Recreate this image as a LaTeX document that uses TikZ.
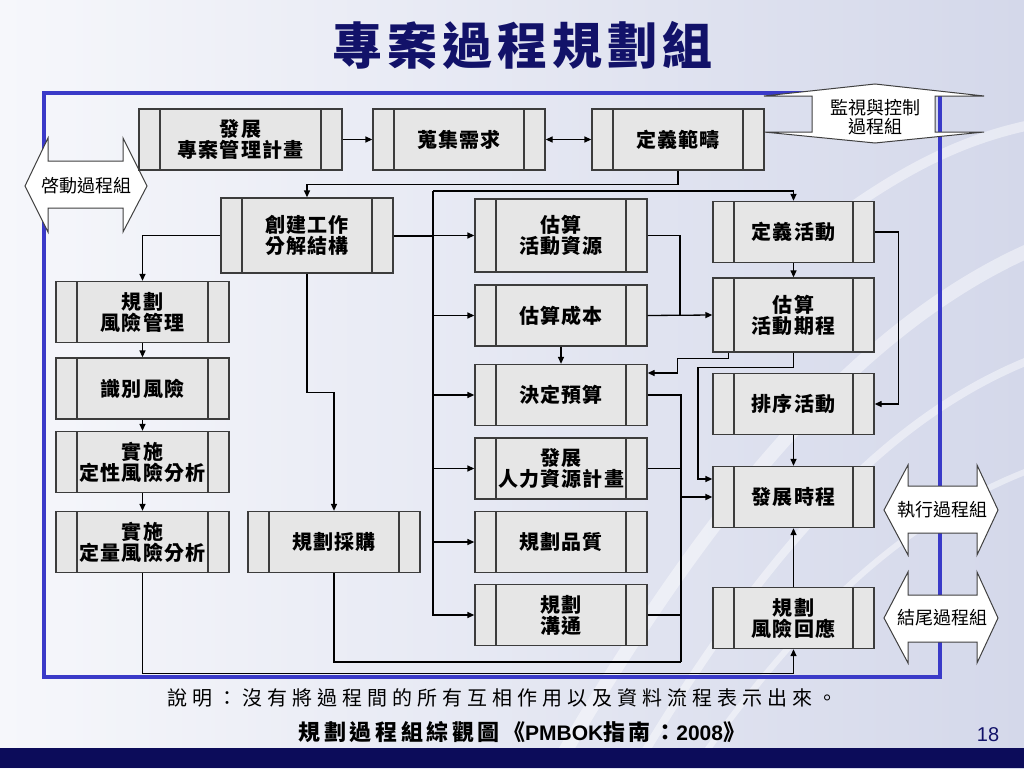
\documentclass[tikz,border=0pt]{standalone}
\usepackage{fontspec}
\newfontfamily\cjk{Noto Sans CJK TC}
\newfontfamily\cjkbox{Noto Sans CJK TC}[LetterSpace=6]
\newfontfamily\cjkcap{Noto Sans CJK TC}[LetterSpace=25]
\newfontfamily\cjkcapb{Noto Sans CJK TC}[LetterSpace=16]
\newfontfamily\cjktitle{Noto Sans CJK TC}[LetterSpace=10]
\setsansfont{Liberation Sans}
\usetikzlibrary{arrows.meta,calc}
\definecolor{navy}{RGB}{18,18,105}
\definecolor{bandnavy}{RGB}{12,12,90}
\definecolor{frameblue}{RGB}{58,58,200}
\definecolor{boxfill}{RGB}{230,230,230}
\definecolor{boxline}{RGB}{60,60,60}
\definecolor{bgL}{RGB}{246,247,251}
\definecolor{bgR}{RGB}{212,216,234}
\newcommand\mybxfont{\cjkbox\bfseries\fontsize{20}{21}\selectfont}
\newcommand\mysidefont{\cjk\fontsize{18}{19}\selectfont}
\tikzset{
  pbox/.style={draw=boxline, fill=boxfill, line width=1.3pt, inner sep=0pt,
    align=center, minimum width=172pt, minimum height=61pt, font=\mybxfont,
    path picture={\draw[boxline, line width=1.1pt]
      ([xshift=21pt]path picture bounding box.south west) -- ([xshift=21pt]path picture bounding box.north west)
      ([xshift=-21pt]path picture bounding box.south east) -- ([xshift=-21pt]path picture bounding box.north east);}},
  conn/.style={draw=black, line width=1.3pt},
  arr/.style={conn, -{Triangle[length=7pt,width=6pt]}},
  darr/.style={conn, {Triangle[length=7pt,width=6pt]}-{Triangle[length=7pt,width=6pt]}},
  sideshape/.style={draw=black!75, fill=white, line width=1pt, line join=miter},
  sidetext/.style={font=\mysidefont, align=center, inner sep=0pt},
  swoosh/.style={draw=white, opacity=0.45, line width=#1},
}
\begin{document}
\begin{tikzpicture}[x=1pt,y=-1pt]
\fill[left color=bgL, right color=bgR] (0,0) rectangle (1024,768);
\useasboundingbox (0,0) rectangle (1024,768);
% background swooshes
\draw[swoosh=14pt] (560,760) .. controls (700,520) and (850,330) .. (1030,250);
\draw[swoosh=8pt] (640,760) .. controls (760,560) and (880,420) .. (1030,360);
\draw[swoosh=10pt] (820,230) .. controls (900,170) and (960,140) .. (1030,125);
\draw[swoosh=6pt] (700,760) .. controls (800,620) and (900,520) .. (1030,470);
\fill[bandnavy] (0,748) rectangle (1024,768);
% title
\node[font=\cjktitle\bfseries\fontsize{50}{50}\selectfont, text=navy] (title) at (522,45) {專案過程規劃組};
% frame
\draw[frameblue, line width=4pt] (44,93) rectangle (940,677);
% side shapes
\draw[sideshape] (25,186) -- (48,138) -- (48,161) -- (123,161) -- (123,138) -- (147,186) -- (123,232) -- (123,208) -- (48,208) -- (48,232) -- cycle;
\node[sidetext] (initg) at (86,186) {啓動過程組};
\draw[sideshape] (875,84) -- (984,96) -- (935,96) -- (935,132) -- (984,132) -- (875,143) -- (764,132) -- (812,132) -- (812,96) -- (764,96) -- cycle;
\node[sidetext] (mong) at (875,117) {監視與控制\\過程組};
\draw[sideshape] (884,510) -- (908,465) -- (908,486) -- (977,486) -- (977,465) -- (998,510) -- (977,555) -- (977,533) -- (908,533) -- (908,555) -- cycle;
\node[sidetext] (execg) at (942,510) {執行過程組};
\draw[sideshape] (884,618) -- (908,572) -- (908,595) -- (977,595) -- (977,572) -- (998,618) -- (977,663) -- (977,642) -- (908,642) -- (908,663) -- cycle;
\node[sidetext] (closeg) at (942,618) {結尾過程組};
% boxes
\node[pbox, minimum width=203pt] (dev) at (240.5,139.5) {發展\\專案管理計畫};
\node[pbox] (collect) at (459,139.5) {蒐集需求};
\node[pbox] (scope) at (678,139.5) {定義範疇};
\node[pbox, minimum height=75pt] (wbs) at (307,235.5) {創建工作\\分解結構};
\node[pbox, minimum height=73pt] (estres) at (561,235.5) {估算\\活動資源};
\node[pbox] (estcost) at (561,315.5) {估算成本};
\node[pbox] (budget) at (561,395) {決定預算};
\node[pbox] (hr) at (561,468.5) {發展\\人力資源計畫};
\node[pbox] (quality) at (561,542) {規劃品質};
\node[pbox] (comm) at (561,615) {規劃\\溝通};
\node[pbox, minimum width=173pt] (riskplan) at (142.5,312) {規劃\\風險管理};
\node[pbox, minimum width=173pt] (identify) at (142.5,388.5) {識別風險};
\node[pbox, minimum width=173pt] (qual) at (142.5,462) {實施\\定性風險分析};
\node[pbox, minimum width=173pt] (quant) at (142.5,542) {實施\\定量風險分析};
\node[pbox] (procure) at (334,542) {規劃採購};
\node[pbox, minimum width=161pt] (defact) at (793.5,232) {定義活動};
\node[pbox, minimum width=161pt, minimum height=74pt] (estdur) at (793.5,315) {估算\\活動期程};
\node[pbox, minimum width=161pt] (seq) at (793.5,404) {排序活動};
\node[pbox, minimum width=161pt] (sched) at (793.5,497) {發展時程};
\node[pbox, minimum width=161pt] (riskresp) at (793.5,618) {規劃\\風險回應};
% coordinates
\coordinate (bus) at (433,191);
\coordinate (rbus) at (681,662);
\coordinate (j1) at ($(estcost.east)!0.5!(estdur.west)$);
% connectors top
\draw[arr] (dev.east) -- (collect.west);
\draw[darr] (collect.east) -- (scope.west);
\draw[arr] (scope.south) -- ++(0,14) -| (wbs.north);
% WBS outputs
\draw[conn, line width=2pt] (wbs.east) -- (bus |- wbs.east);
\draw[arr] (bus) -| (defact.north);
\draw[arr] (bus) |- (comm.west);
\draw[arr] (bus |- estres.west) -- (estres.west);
\draw[arr] (bus |- estcost.west) -- (estcost.west);
\draw[arr] (bus |- budget.west) -- (budget.west);
\draw[arr] (bus |- hr.west) -- (hr.west);
\draw[arr] (bus |- quality.west) -- (quality.west);
\draw[arr] (wbs.west) -| (riskplan.north);
\draw[arr] (wbs.south) -- ++(0,119) -| (procure.north);
% risk chain
\draw[arr] (riskplan.south) -- (identify.north);
\draw[arr] (identify.south) -- (qual.north);
\draw[arr] (qual.south) -- (quant.north);
\draw[arr] (quant.south) -- ++(0,100) -| (riskresp.south);
% middle column to schedule
\draw[conn] (procure.south) |- (rbus);
\draw[conn] (budget.east) -| (rbus);
\draw[conn] (hr.east) -- (rbus |- hr.east);
\draw[conn] (comm.east) -- (rbus |- comm.east);
\draw[arr, line width=2pt] (rbus |- sched.west) -- (sched.west);
\draw[conn] (estres.east) -| (j1);
\draw[arr] (estcost.east) -- (estdur.west);
\draw[arr] (estcost.south) -- (budget.north);
\draw[arr] ([xshift=16pt]estdur.south west) -- ++(0,6) -- ++(-51,0) |- ([yshift=22pt]budget.east);
\draw[arr] (estdur.south) -- ++(0,15) -- ++(-95.5,0) |- ([yshift=18pt]sched.west);
% right column
\draw[arr] (defact.south) -- (estdur.north);
\draw[arr] (defact.east) -- ++(24,0) |- (seq.east);
\draw[arr] (seq.south) -- (sched.north);
\draw[arr] (riskresp.north) -- (sched.south);
% captions
\node[font=\cjkcap\fontsize{20}{20}\selectfont] (note) at (502,698) {說明：沒有將過程間的所有互相作用以及資料流程表示出來。};
\node[inner sep=0pt] (refnote) at (522,732) {{\cjkcapb\bfseries\fontsize{22}{22}\selectfont 規劃過程組綜觀圖《}{\sffamily\bfseries\fontsize{21}{21}\selectfont PMBOK}{\cjkcapb\bfseries\fontsize{22}{22}\selectfont 指南：}{\sffamily\bfseries\fontsize{21}{21}\selectfont 2008}{\cjkcapb\bfseries\fontsize{22}{22}\selectfont 》}};
\node[font=\sffamily\fontsize{20}{20}\selectfont, text=navy] (pagenum) at (988,735) {18};
\end{tikzpicture}
\end{document}
